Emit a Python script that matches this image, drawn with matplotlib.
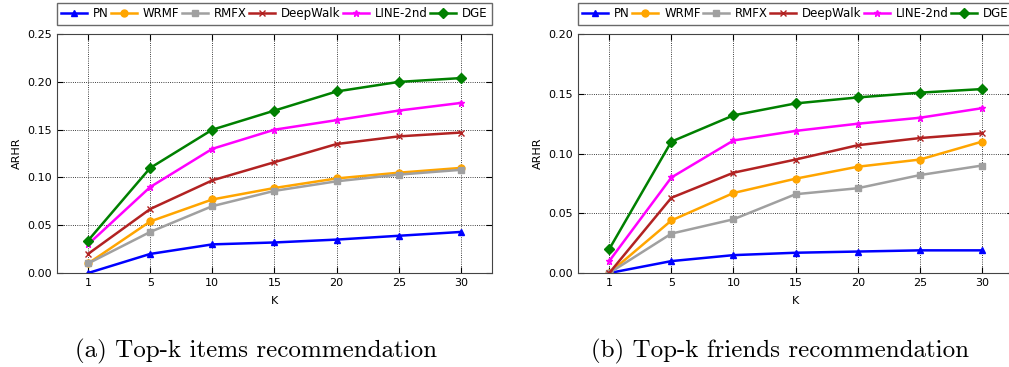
import numpy as np
import matplotlib
matplotlib.use("Agg")
import matplotlib.pyplot as plt

# x categories (evenly spaced on the axis)
k_labels = ["1", "5", "10", "15", "20", "25", "30"]
methods = ["PN", "WRMF", "RMFX", "DeepWalk", "LINE-2nd", "DGE"]

# (a) Top-k items recommendation
items_pn = [0.000, 0.020, 0.030, 0.032, 0.035, 0.039, 0.043]
items_wrmf = [0.010, 0.054, 0.077, 0.089, 0.099, 0.105, 0.110]
items_rmfx = [0.010, 0.043, 0.070, 0.086, 0.096, 0.103, 0.108]
items_deepwalk = [0.020, 0.067, 0.097, 0.116, 0.135, 0.143, 0.147]
items_line = [0.030, 0.090, 0.130, 0.150, 0.160, 0.170, 0.178]
items_dge = [0.034, 0.110, 0.150, 0.170, 0.190, 0.200, 0.204]

# (b) Top-k friends recommendation
friends_pn = [0.000, 0.010, 0.015, 0.017, 0.018, 0.019, 0.019]
friends_wrmf = [0.000, 0.044, 0.067, 0.079, 0.089, 0.095, 0.110]
friends_rmfx = [0.000, 0.033, 0.045, 0.066, 0.071, 0.082, 0.090]
friends_deepwalk = [0.000, 0.063, 0.084, 0.095, 0.107, 0.113, 0.117]
friends_line = [0.010, 0.080, 0.111, 0.119, 0.125, 0.130, 0.138]
friends_dge = [0.020, 0.110, 0.132, 0.142, 0.147, 0.151, 0.154]

colors = ["#0000ff", "#ffa500", "#a0a0a0", "#b22222", "#ff00ff", "#008000"]
markers = ["^", "o", "s", "x", "*", "D"]

x = np.arange(len(k_labels))

fig = plt.figure(figsize=(10.09, 3.67), dpi=100)
ax1 = fig.add_axes([0.0565, 0.256, 0.431, 0.651])
ax2 = fig.add_axes([0.573, 0.256, 0.431, 0.651])


def draw(ax, series, ymax, caption, cap_x):
    for vals, name, c, m in zip(series, methods, colors, markers):
        ax.plot(x, vals, color=c, marker=m, markersize=5, lw=1.8,
                markeredgecolor=c, label=name)
    ax.set_xlim(-0.5, len(k_labels) - 0.5)
    ax.set_ylim(0, ymax)
    ax.set_xticks(x)
    ax.set_xticklabels(k_labels)
    ax.set_yticks(np.arange(0, ymax + 0.001, 0.05))
    ax.yaxis.set_major_formatter(plt.FormatStrFormatter("%.2f"))
    ax.tick_params(direction="in", top=True, right=True, labelsize=8, length=4)
    ax.grid(True, color="black", linestyle=":", linewidth=0.6)
    for s in ax.spines.values():
        s.set_color("#444444")
    ax.set_ylabel("ARHR", fontsize=8)
    ax.set_xlabel("K", fontsize=8, labelpad=6)
    leg = ax.legend(ncol=6, loc="lower left", bbox_to_anchor=(0, 1.04, 1, 0.08),
                    mode="expand", borderaxespad=0, fontsize=8.5, fancybox=False,
                    handlelength=2.2, handletextpad=0.5, columnspacing=0.8,
                    borderpad=0.35)
    leg.get_frame().set_edgecolor("#444444")
    # subfigure caption below each panel
    fig.text(cap_x, 0.041, caption, ha="center", va="center",
             fontsize=18, family="cmr10")


draw(ax1, [items_pn, items_wrmf, items_rmfx, items_deepwalk, items_line, items_dge],
     0.25, "(a) Top-k items recommendation", 256 / 1009)
draw(ax2, [friends_pn, friends_wrmf, friends_rmfx, friends_deepwalk, friends_line, friends_dge],
     0.20, "(b) Top-k friends recommendation", 780 / 1009)

fig.savefig("out.png", dpi=100)
